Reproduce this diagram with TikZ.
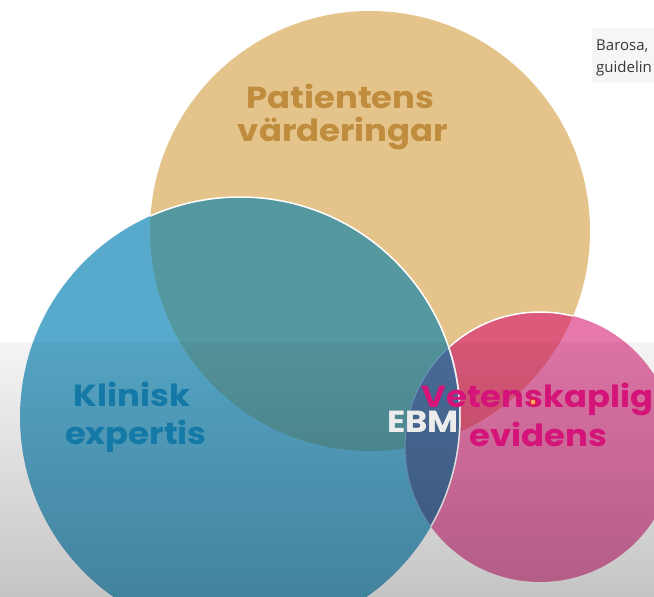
\documentclass[tikz,border=0pt]{standalone}
\usepackage{fontspec}
\usetikzlibrary{fadings}
\newfontfamily\labfont{Poppins}
\newfontfamily\notefont{Open Sans}
\definecolor{yelc}{RGB}{229,196,139}
\definecolor{bluc}{RGB}{88,170,204}
\definecolor{tealc}{RGB}{86,152,160}
\definecolor{pnkc}{RGB}{230,120,172}
\definecolor{redc}{RGB}{222,90,123}
\definecolor{dbluc}{RGB}{76,112,158}
\definecolor{pattxt}{RGB}{192,140,62}
\definecolor{klitxt}{RGB}{20,121,166}
\definecolor{vettxt}{RGB}{212,20,120}
\definecolor{ebmtxt}{RGB}{236,236,236}
\definecolor{notetxt}{RGB}{55,55,55}
\definecolor{notebg}{RGB}{246,246,246}
\tikzfading[name=floorfade, top color=transparent!96, bottom color=transparent!77]
\tikzset{
  lbl/.style={font=\labfont\bfseries\fontsize{30.5}{34}\selectfont, anchor=base, inner sep=0pt, xscale=1.11, transform shape},
  notelbl/.style={font=\notefont\fontsize{15}{18}\selectfont, anchor=base west, inner sep=0pt, text=notetxt},
  whiteedge/.style={draw=white, line width=1.5pt}
}
\begin{document}
\begin{tikzpicture}[x=1pt,y=-1pt]
\useasboundingbox (0,0) rectangle (654,597);
\fill[white] (0,0) rectangle (654,597);
\def\yel{(370,231) circle[radius=220pt]}
\def\blu{(240,417) circle[radius=220pt]}
\def\pnk{(540,447) circle[radius=135pt]}
% base fills
\fill[yelc] \yel;
\fill[pnkc] \pnk;
\begin{scope}\clip \yel; \fill[redc] \pnk; \end{scope}
\begin{scope}\clip \yel; \draw[whiteedge] \pnk; \end{scope}
\fill[bluc] \blu;
\begin{scope}\clip \yel; \fill[tealc] \blu; \end{scope}
\begin{scope}\clip \pnk; \fill[dbluc] \blu; \end{scope}
\begin{scope}\clip \blu; \draw[draw={rgb,255:red,115;green,160;blue,205}, line width=1pt] \pnk; \end{scope}
\begin{scope}\clip \yel; \draw[whiteedge] \blu; \end{scope}
\begin{scope}\clip \pnk; \draw[whiteedge] \blu; \end{scope}
% floor shading
\fill[black, path fading=floorfade] (0,342) rectangle (654,597);
% labels
\node[lbl, text=pattxt] (pat1) at (340.5,108.3) {Patientens};
\node[lbl, text=pattxt] (pat2) at (343,141) {värderingar};
\node[lbl, text=klitxt] (kli1) at (132,406.7) {Klinisk};
\node[lbl, text=klitxt] (kli2) at (136,444) {expertis};
\node[lbl, text=ebmtxt] (ebm) at (423,432.7) {EBM};
\node[lbl, text=vettxt] (vet1) at (537.5,407) {Vetenskaplig};
\node[lbl, text=vettxt] (vet2) at (538.5,446.7) {evidens};
% pointer dot
\node[circle, draw={rgb,255:red,225;green,40;blue,40}, fill={rgb,255:red,250;green,170;blue,120}, line width=1pt, minimum size=6pt, inner sep=0pt] (dot) at (533,402) {};
% reference note
\fill[notebg] (592,28) rectangle (654,83);
\node[notelbl] (note1) at (596,50) {Barosa,};
\node[notelbl] (note2) at (596,72) {guidelin};
\end{tikzpicture}
\end{document}
